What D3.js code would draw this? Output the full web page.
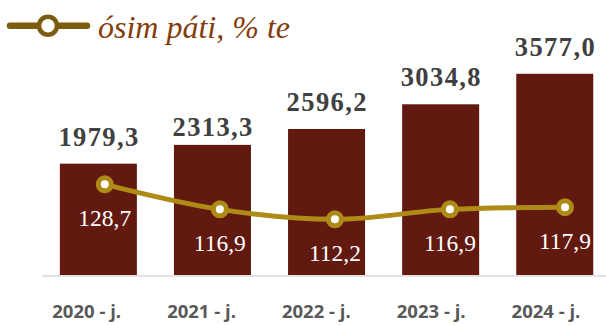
<!DOCTYPE html>
<html>
<head>
<meta charset="utf-8">
<script src="https://cdn.jsdelivr.net/npm/d3@7"></script>
<style>
  html, body { margin: 0; padding: 0; background: #fff; }
  svg { display: block; }
</style>
</head>
<body>
<svg id="chart" width="606" height="325"></svg>
<script>
// Years on the category axis
const years = ["2020 - j.", "2021 - j.", "2022 - j.", "2023 - j.", "2024 - j."];
// Bar series: volume
const volume = [1979.3, 2313.3, 2596.2, 3034.8, 3577.0];
// Line series: growth rate, % of previous year
const growth = [128.7, 116.9, 112.2, 116.9, 117.9];
const legendLabel = "ósim páti, % te";

const fmt = v => d3.format(".1f")(v).replace(".", ",");

const svg = d3.select("#chart");

const barColor = "#611910";
const lineColor = "#AE8B16";
const legendColor = "#7A5D10";

// Scales
const xBar = d3.scaleBand().domain(years).range([41.3, 611.8]).paddingInner(0.325).paddingOuter(0.1625);
const xLine = d3.scalePoint().domain(years).range([104.8, 565]);
const xTick = d3.scalePoint().domain(years).range([86.7, 546]);
const yBar = d3.scaleLinear().domain([0, 4000]).range([275, 50]);
const yLine = d3.scaleLinear().domain([100, 140]).range([245.2, 160.4]);

// Bars
svg.append("g").selectAll("rect")
  .data(volume)
  .join("rect")
  .attr("x", (d, i) => xBar(years[i]))
  .attr("y", d => yBar(d))
  .attr("width", xBar.bandwidth())
  .attr("height", d => yBar(0) - yBar(d))
  .attr("fill", barColor);

// Baseline
svg.append("line")
  .attr("x1", 42).attr("x2", 606)
  .attr("y1", 276).attr("y2", 276)
  .attr("stroke", "#d9d9d9").attr("stroke-width", 1.5);

// Bar value labels (the second one sits a little closer to its bar)
const labelGap = [18, 8.5, 18, 18, 17.5];
svg.append("g").selectAll("text")
  .data(volume)
  .join("text")
  .attr("x", (d, i) => xBar(years[i]) + xBar.bandwidth() / 2 + 0.7)
  .attr("y", (d, i) => yBar(d) - labelGap[i])
  .attr("text-anchor", "middle")
  .attr("font-family", "'Liberation Serif', serif")
  .attr("font-weight", "bold")
  .attr("font-size", 26.5)
  .attr("letter-spacing", 1.4)
  .attr("fill", "#404040")
  .text(d => fmt(d));

// Growth line
const line = d3.line()
  .x((d, i) => xLine(years[i]))
  .y(d => yLine(d))
  .curve(d3.curveCatmullRom.alpha(0.5));

svg.append("path")
  .datum(growth)
  .attr("d", line)
  .attr("fill", "none")
  .attr("stroke", lineColor)
  .attr("stroke-width", 5)
  .attr("stroke-linecap", "round");

svg.append("g").selectAll("circle")
  .data(growth)
  .join("circle")
  .attr("cx", (d, i) => xLine(years[i]))
  .attr("cy", d => yLine(d))
  .attr("r", 6.5)
  .attr("fill", "#fff")
  .attr("stroke", lineColor)
  .attr("stroke-width", 5);

svg.append("g").selectAll("text")
  .data(growth)
  .join("text")
  .attr("x", (d, i) => xLine(years[i]))
  .attr("y", d => yLine(d) + 41.7)
  .attr("text-anchor", "middle")
  .attr("font-family", "'Liberation Serif', serif")
  .attr("font-size", 23.5)
  .attr("fill", "#fff")
  .text(d => fmt(d));

// Category labels
svg.append("g").selectAll("text")
  .data(years)
  .join("text")
  .attr("x", d => xTick(d))
  .attr("y", 318.3)
  .attr("text-anchor", "middle")
  .attr("font-family", "'Open Sans', sans-serif")
  .attr("font-weight", "bold")
  .attr("font-size", 18.5)
  .attr("fill", "#595959")
  .text(d => d);

// Legend
const lg = svg.append("g");
lg.append("line")
  .attr("x1", 10).attr("x2", 87)
  .attr("y1", 25.7).attr("y2", 25.7)
  .attr("stroke", legendColor).attr("stroke-width", 6.5)
  .attr("stroke-linecap", "round");
lg.append("circle")
  .attr("cx", 48).attr("cy", 25.7).attr("r", 9)
  .attr("fill", "#fff")
  .attr("stroke", legendColor).attr("stroke-width", 4.5);
lg.append("text")
  .attr("x", 98).attr("y", 38)
  .attr("font-family", "'Liberation Serif', serif")
  .attr("font-style", "italic")
  .attr("font-size", 32)
  .attr("fill", "#843C0C")
  .text(legendLabel);
</script>
</body>
</html>
